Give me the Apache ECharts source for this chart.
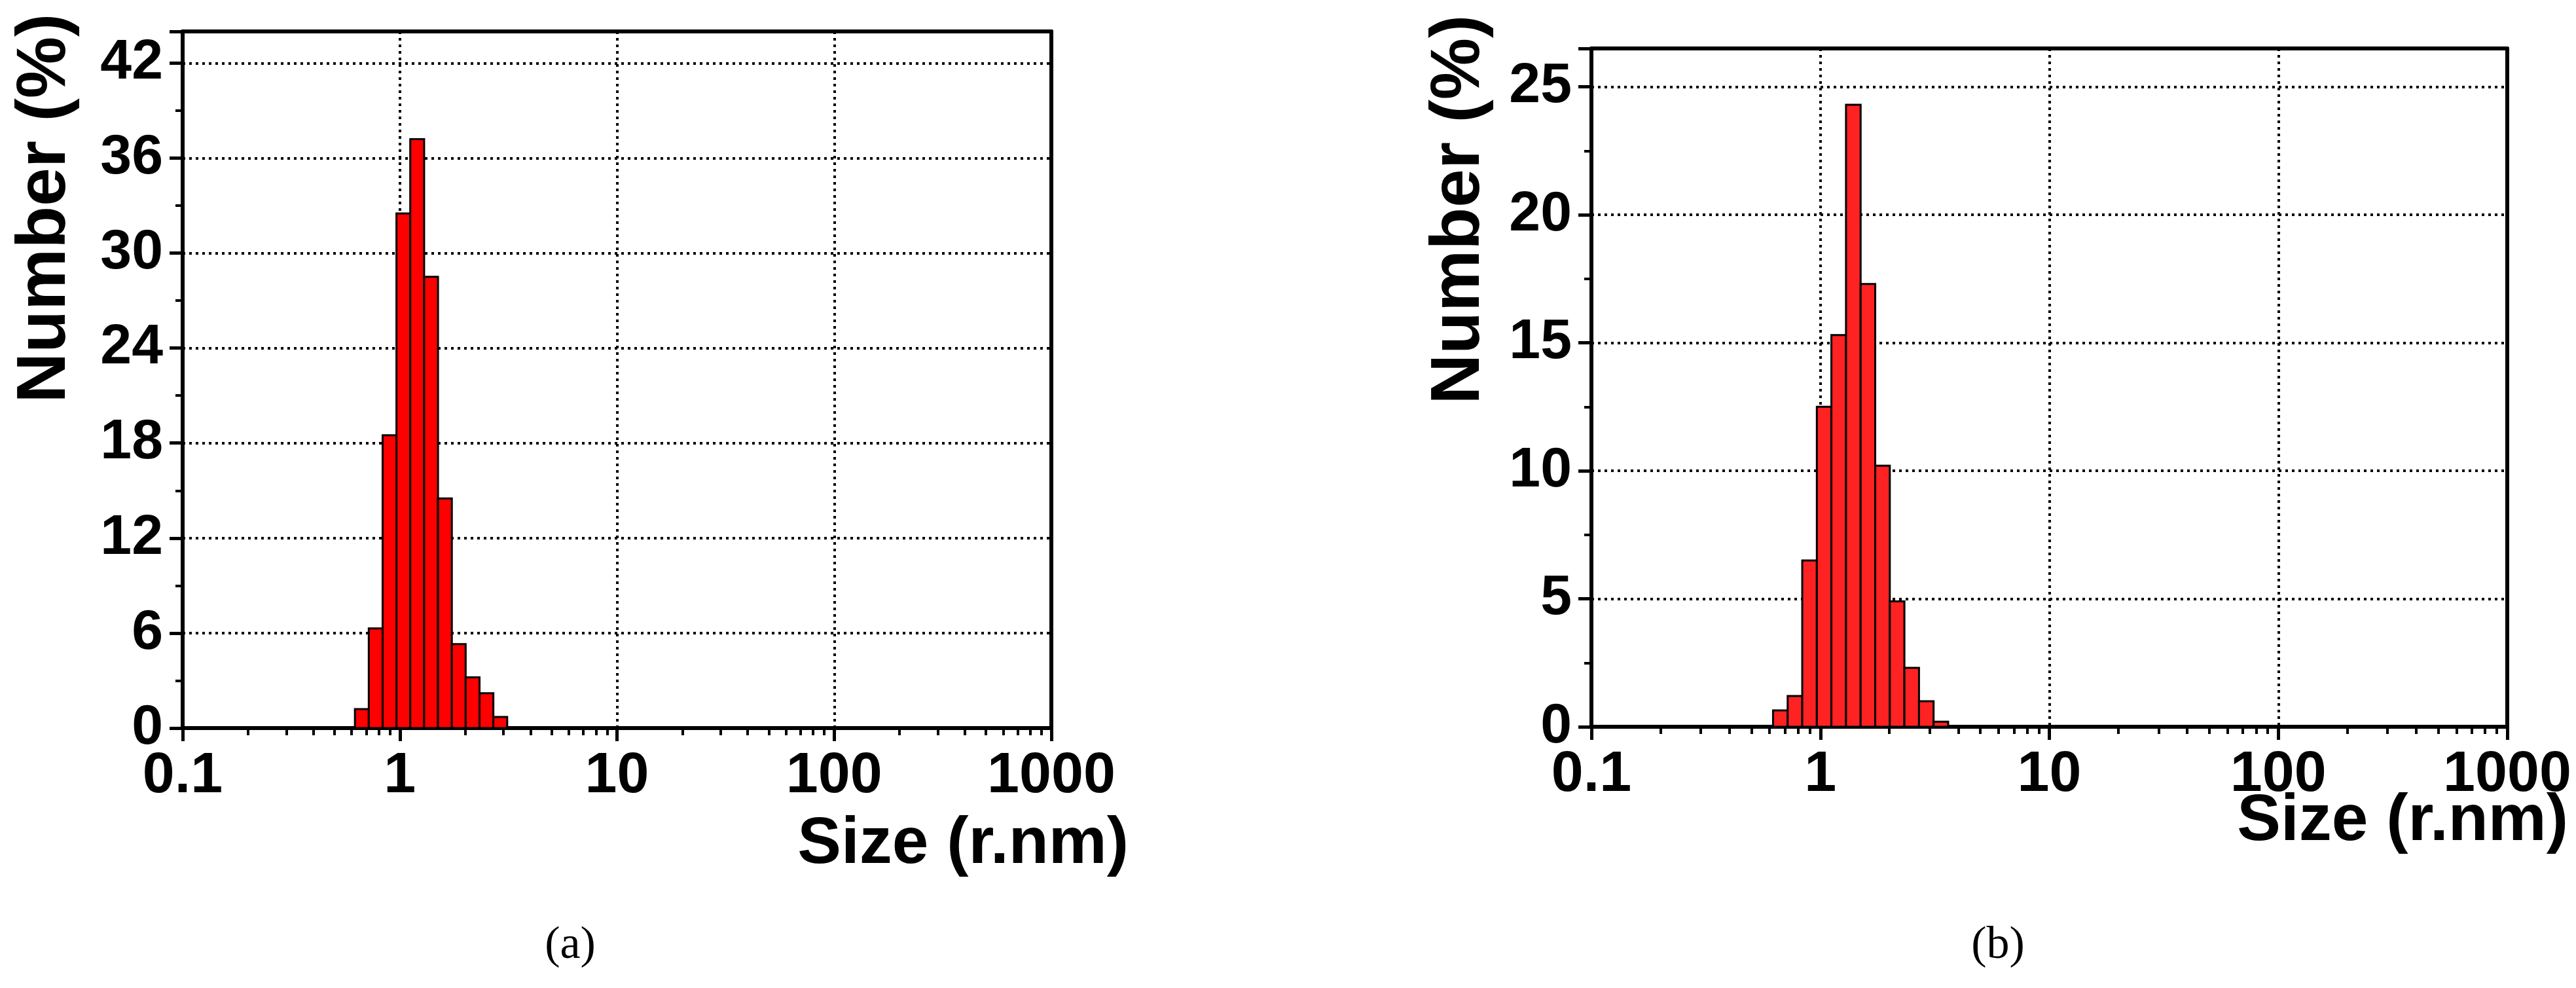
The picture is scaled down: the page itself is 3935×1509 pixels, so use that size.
<!DOCTYPE html>
<html><head><meta charset="utf-8">
<script src="https://cdn.jsdelivr.net/npm/echarts@6/dist/echarts.min.js"></script>
<style>html,body{margin:0;padding:0;background:#fff}#c{width:3935px;height:1509px}</style>
</head><body><div id="c"></div>
<script>
// Malvern size-class bin edges (nm)
const binEdges = [0.6213, 0.7195, 0.8332, 0.9649, 1.117, 1.294, 1.499, 1.736, 2.010, 2.328, 2.696, 3.122, 3.615];
const valuesA = [1.2, 6.3, 18.5, 32.5, 37.2, 28.5, 14.5, 5.3, 3.2, 2.2, 0.7];
const valuesB = [0.64, 1.2, 6.5, 12.5, 15.3, 24.3, 17.3, 10.2, 4.9, 2.3, 1.0, 0.2];
const xTicks = [0.1, 1, 10, 100, 1000];
const yTicksA = [0, 6, 12, 18, 24, 30, 36, 42];
const yTicksB = [0, 5, 10, 15, 20, 25];

function bars(vals){ return vals.map((v,i)=>[binEdges[i], binEdges[i+1], v]); }
const F = 'Liberation Sans, Arial, sans-serif';
const grids = [
  {left:279, top:48, width:1327, height:1064},
  {left:2431, top:74, width:1399, height:1036}
];
function xAx(g, bottom){
  return {type:'log', gridIndex:g, min:0.1, max:1000, logBase:10, position: bottom?'bottom':'top',
    axisLine:{show:true, onZero:false, lineStyle:{color:'#000', width:6}},
    axisTick:{show:bottom, length:20, lineStyle:{color:'#000', width:5}},
    minorTick:{show:bottom, splitNumber:9, length:11, lineStyle:{color:'#000', width:4}},
    axisLabel:{show:bottom, color:'#000', fontFamily:F, fontWeight:'bold', fontSize:88, margin:30,
      formatter: v => { const t = xTicks.find(x=>Math.abs(x-v)/x<1e-6); return t===undefined?'':String(t); }},
    splitLine:{show:bottom, lineStyle:{color:'#000', width:4, type:[4,6]}}
  };
}
function yAx(g, left, max, interval, ticks){
  return {type:'value', gridIndex:g, min:0, max:max, interval:interval, position: left?'left':'right',
    axisLine:{show:true, onZero:false, lineStyle:{color:'#000', width:6}},
    axisTick:{show:left, length:20, lineStyle:{color:'#000', width:5}},
    minorTick:{show:left, splitNumber:2, length:11, lineStyle:{color:'#000', width:4}},
    axisLabel:{show:left, color:'#000', fontFamily:F, fontWeight:'bold', fontSize:86, margin:30,
      formatter: v => ticks.includes(v)?String(v):''},
    splitLine:{show:left, lineStyle:{color:'#000', width:4, type:[4,6]}}
  };
}
function custom(idx, vals, color){
  return {type:'custom', xAxisIndex:idx*2, yAxisIndex:idx*2, data:bars(vals),
    renderItem:(params, api)=>{
      const p0 = api.coord([api.value(0), 0]);
      const p1 = api.coord([api.value(1), api.value(2)]);
      return {type:'rect', shape:{x:p0[0], y:p1[1], width:p1[0]-p0[0], height:p0[1]-p1[1]},
        style:{fill:color, stroke:'#000', lineWidth:3}};
    }};
}
const chart = echarts.init(document.getElementById('c'));
chart.setOption({
  animation:false, backgroundColor:'#fff',
  grid: grids,
  xAxis:[xAx(0,true), xAx(0,false), xAx(1,true), xAx(1,false)],
  yAxis:[yAx(0,true,44,6,yTicksA), yAx(0,false,44,6,yTicksA), yAx(1,true,26.5,5,yTicksB), yAx(1,false,26.5,5,yTicksB)],
  series:[custom(0, valuesA, '#ff0000'), custom(1, valuesB, '#ff2222')],
  graphic:[
    {type:'text', x:70, y:318, rotation:Math.PI/2, style:{text:'Number (%)', fill:'#000', font:'bold 106px '+F, textAlign:'center', textVerticalAlign:'middle'}},
    {type:'text', x:1724, y:1290, style:{text:'Size (r.nm)', fill:'#000', font:'bold 100px '+F, textAlign:'right', textVerticalAlign:'middle'}},
    {type:'text', x:871, y:1445, style:{text:'(a)', fill:'#000', font:'70px Liberation Serif, serif', textAlign:'center', textVerticalAlign:'middle'}},
    {type:'text', x:2230, y:320, rotation:Math.PI/2, style:{text:'Number (%)', fill:'#000', font:'bold 106px '+F, textAlign:'center', textVerticalAlign:'middle'}},
    {type:'text', x:3923, y:1255, style:{text:'Size (r.nm)', fill:'#000', font:'bold 100px '+F, textAlign:'right', textVerticalAlign:'middle'}},
    {type:'text', x:3052, y:1445, style:{text:'(b)', fill:'#000', font:'70px Liberation Serif, serif', textAlign:'center', textVerticalAlign:'middle'}}
  ]
});
</script></body></html>
